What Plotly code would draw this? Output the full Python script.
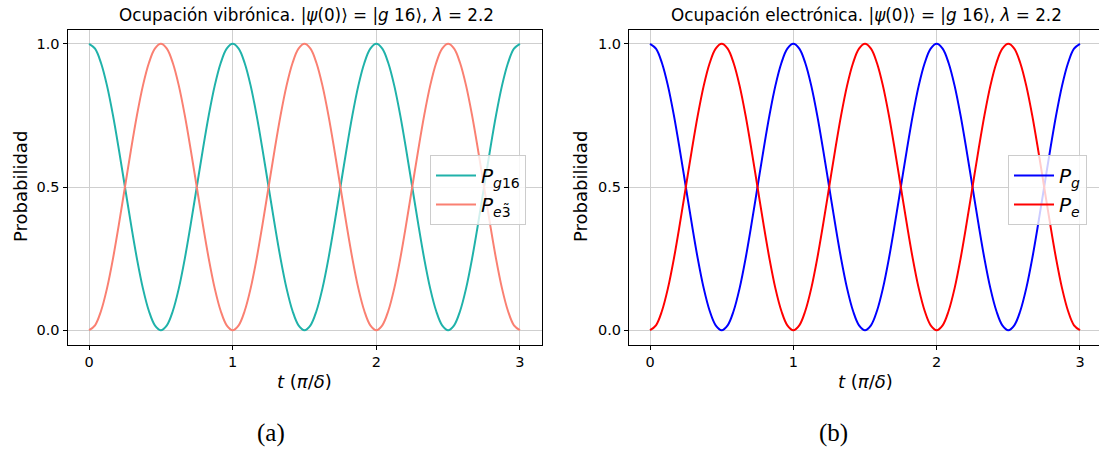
import plotly.graph_objects as go

# time in units of pi/delta (step 1/24)
t = [0.0, 0.0417, 0.0833, 0.125, 0.1667, 0.2083, 0.25, 0.2917, 0.3333, 0.375, 0.4167, 0.4583,
     0.5, 0.5417, 0.5833, 0.625, 0.6667, 0.7083, 0.75, 0.7917, 0.8333, 0.875, 0.9167, 0.9583,
     1.0, 1.0417, 1.0833, 1.125, 1.1667, 1.2083, 1.25, 1.2917, 1.3333, 1.375, 1.4167, 1.4583,
     1.5, 1.5417, 1.5833, 1.625, 1.6667, 1.7083, 1.75, 1.7917, 1.8333, 1.875, 1.9167, 1.9583,
     2.0, 2.0417, 2.0833, 2.125, 2.1667, 2.2083, 2.25, 2.2917, 2.3333, 2.375, 2.4167, 2.4583,
     2.5, 2.5417, 2.5833, 2.625, 2.6667, 2.7083, 2.75, 2.7917, 2.8333, 2.875, 2.9167, 2.9583,
     3.0]

# ground-state occupation
p_ground = [1.0, 0.983, 0.933, 0.854, 0.75, 0.629, 0.5, 0.371, 0.25, 0.146, 0.067, 0.017,
            0.0, 0.017, 0.067, 0.146, 0.25, 0.371, 0.5, 0.629, 0.75, 0.854, 0.933, 0.983,
            1.0, 0.983, 0.933, 0.854, 0.75, 0.629, 0.5, 0.371, 0.25, 0.146, 0.067, 0.017,
            0.0, 0.017, 0.067, 0.146, 0.25, 0.371, 0.5, 0.629, 0.75, 0.854, 0.933, 0.983,
            1.0, 0.983, 0.933, 0.854, 0.75, 0.629, 0.5, 0.371, 0.25, 0.146, 0.067, 0.017,
            0.0, 0.017, 0.067, 0.146, 0.25, 0.371, 0.5, 0.629, 0.75, 0.854, 0.933, 0.983,
            1.0]

# excited-state occupation
p_excited = [0.0, 0.017, 0.067, 0.146, 0.25, 0.371, 0.5, 0.629, 0.75, 0.854, 0.933, 0.983,
             1.0, 0.983, 0.933, 0.854, 0.75, 0.629, 0.5, 0.371, 0.25, 0.146, 0.067, 0.017,
             0.0, 0.017, 0.067, 0.146, 0.25, 0.371, 0.5, 0.629, 0.75, 0.854, 0.933, 0.983,
             1.0, 0.983, 0.933, 0.854, 0.75, 0.629, 0.5, 0.371, 0.25, 0.146, 0.067, 0.017,
             0.0, 0.017, 0.067, 0.146, 0.25, 0.371, 0.5, 0.629, 0.75, 0.854, 0.933, 0.983,
             1.0, 0.983, 0.933, 0.854, 0.75, 0.629, 0.5, 0.371, 0.25, 0.146, 0.067, 0.017,
             0.0]

x_ticks = [0, 1, 2, 3]
y_ticks = [0.0, 0.5, 1.0]
y_ticklabels = ["0.0", "0.5", "1.0"]

W, H = 1099, 450
FONT = "DejaVu Sans"

fig = go.Figure()

# Left panel (vibronic)
fig.add_trace(go.Scatter(x=t, y=p_ground, mode="lines", line=dict(color="#20B2AA", width=2, shape="spline"),
                         name="<i>P</i><sub><i>g</i>16</sub>", xaxis="x", yaxis="y", legend="legend"))
fig.add_trace(go.Scatter(x=t, y=p_excited, mode="lines", line=dict(color="#FA8072", width=2, shape="spline"),
                         name="<i>P</i><sub><i>e</i>3\u0303</sub>", xaxis="x", yaxis="y", legend="legend"))
# Right panel (electronic)
fig.add_trace(go.Scatter(x=t, y=p_ground, mode="lines", line=dict(color="#0000FF", width=2, shape="spline"),
                         name="<i>P</i><sub><i>g</i></sub>", xaxis="x2", yaxis="y2", legend="legend2"))
fig.add_trace(go.Scatter(x=t, y=p_excited, mode="lines", line=dict(color="#FF0000", width=2, shape="spline"),
                         name="<i>P</i><sub><i>e</i></sub>", xaxis="x2", yaxis="y2", legend="legend2"))

ydom = [105.5 / H, 420.5 / H]
common_x = dict(tickmode="array", tickvals=x_ticks, ticks="outside", ticklen=4, tickwidth=1, tickcolor="black",
                showgrid=True, gridcolor="#cfcfcf", gridwidth=1, zeroline=False, showline=True,
                linecolor="black", linewidth=1, mirror=True, tickfont=dict(family=FONT, size=14.5, color="black"))
common_y = dict(tickmode="array", tickvals=y_ticks, ticktext=y_ticklabels, ticks="outside", ticklen=4,
                tickwidth=1, tickcolor="black", showgrid=True, gridcolor="#cfcfcf", gridwidth=1, zeroline=False,
                showline=True, linecolor="black", linewidth=1, domain=ydom, range=[-0.05, 1.05],
                tickfont=dict(family=FONT, size=14.5, color="black"))

leg_common = dict(xanchor="left", yanchor="top", bgcolor="rgba(255,255,255,0.8)", bordercolor="#cccccc",
                  borderwidth=1, itemwidth=40, tracegroupgap=0,
                  font=dict(family=FONT, size=20, color="black"))

fig.update_layout(
    width=W, height=H, margin=dict(l=0, r=0, t=0, b=0),
    plot_bgcolor="white", paper_bgcolor="white",
    xaxis=dict(domain=[67.5 / W, 541.5 / W], range=[-0.15, 3.15], anchor="y", **common_x),
    yaxis=dict(anchor="x", mirror=True, **common_y),
    xaxis2=dict(domain=[629 / W, 1.0], range=[-0.1465, 3.1326], anchor="y2", **common_x),
    yaxis2=dict(anchor="x2", mirror=False, **common_y),
    legend=dict(x=430 / W, y=(H - 155) / H, **leg_common),
    legend2=dict(x=1008 / W, y=(H - 155) / H, **leg_common),
)

ann = []
# titles
ann.append(dict(text="Ocupación vibrónica. |<i>ψ</i>(0)⟩ = |<i>g</i> 16⟩, <i>λ</i> = 2.2",
                x=306 / W, y=(H - 15) / H, font=dict(family=FONT, size=16.8, color="black")))
ann.append(dict(text="Ocupación electrónica. |<i>ψ</i>(0)⟩ = |<i>g</i> 16⟩, <i>λ</i> = 2.2",
                x=866 / W, y=(H - 15) / H, font=dict(family=FONT, size=16.8, color="black")))
# x-axis labels
for cx in (304.5, 865):
    ann.append(dict(text="<i>t</i> (<i>π</i>/<i>δ</i>)", x=cx / W, y=(H - 381) / H,
                    font=dict(family=FONT, size=18, color="black")))
# y-axis labels
for cx in (20, 580):
    ann.append(dict(text="Probabilidad", x=cx / W, y=(H - 187) / H, textangle=-90,
                    font=dict(family=FONT, size=18, color="black")))
# captions
ann.append(dict(text="(a)", x=271 / W, y=(H - 433) / H,
                font=dict(family="Liberation Serif", size=25, color="black")))
ann.append(dict(text="(b)", x=833 / W, y=(H - 433) / H,
                font=dict(family="Liberation Serif", size=25, color="black")))
for a in ann:
    a.update(xref="paper", yref="paper", showarrow=False, xanchor="center", yanchor="middle")
fig.update_layout(annotations=ann)

fig.write_html("out.html")
